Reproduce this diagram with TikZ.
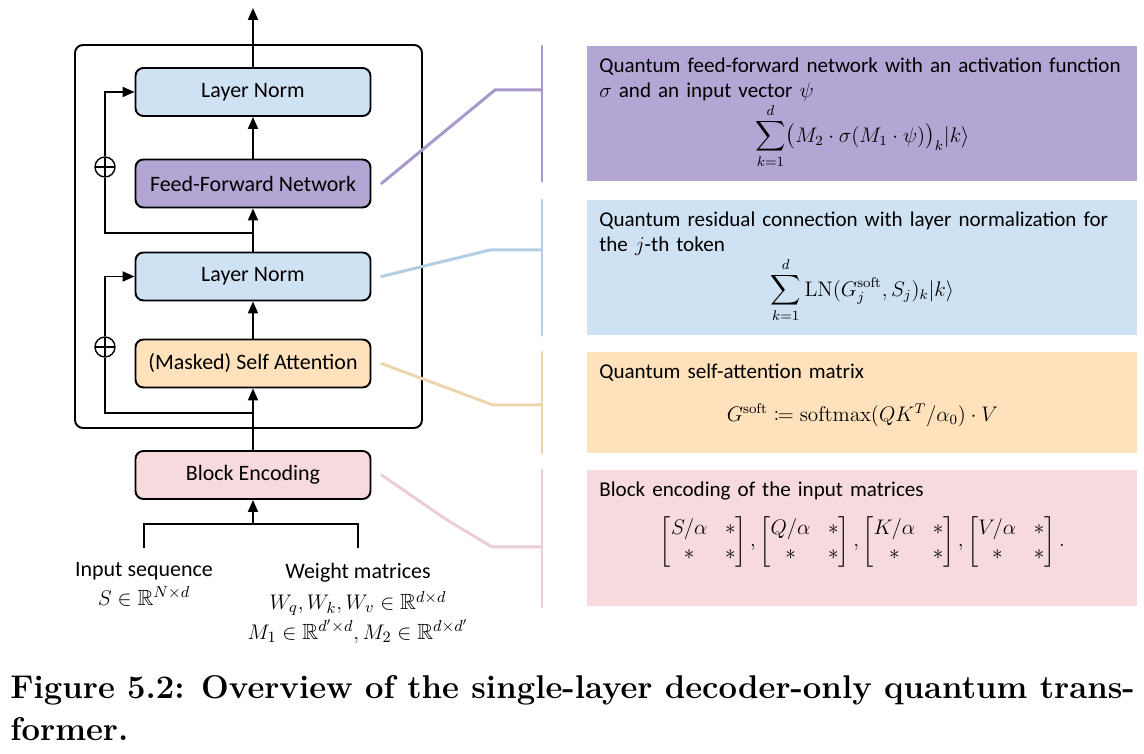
\documentclass[tikz,border=0pt]{standalone}
\usepackage{amsmath,amssymb,mathtools}
\usepackage[no-math]{fontspec}
\setmainfont{Carlito}
\newfontfamily\capfont{Latin Modern Roman}
\usetikzlibrary{arrows.meta}

\definecolor{ffncol}{RGB}{179,166,212}
\definecolor{lncol}{RGB}{207,226,243}
\definecolor{attcol}{RGB}{255,225,187}
\definecolor{bencol}{RGB}{247,218,221}
\definecolor{ffnline}{RGB}{168,152,204}
\definecolor{lnline}{RGB}{178,205,228}
\definecolor{attline}{RGB}{238,214,172}
\definecolor{benline}{RGB}{234,206,212}

\tikzset{
    block/.style={draw, line width=1.1pt, rounded corners=0.16cm, minimum width=4.7cm, minimum height=0.96cm, font=\fontsize{12.5}{15}\selectfont},
    note/.style={text width=10.52cm, inner sep=0.24cm, minimum height=#1, font=\fontsize{12}{14.2}\selectfont, align=left},
    inlabel/.style={align=center, inner ysep=0.29cm, font=\fontsize{12.5}{17}\selectfont},
    adder/.style={draw, circle, fill=white, minimum size=0.4cm, inner sep=0pt, line width=0.8pt,
        path picture={\draw[line width=0.8pt] (path picture bounding box.north) -- (path picture bounding box.south)
            (path picture bounding box.west) -- (path picture bounding box.east);}},
    flow/.style={line width=1.1pt, -{Triangle[length=2.4mm,width=2mm]}},
    plain/.style={line width=1.1pt},
    link/.style={line width=1.7pt, line cap=round}
}

\begin{document}
\begin{tikzpicture}
    \useasboundingbox (0,0) rectangle (22.88,15.08);

    \node[draw, line width=1.1pt, rounded corners=0.16cm, minimum width=6.94cm, minimum height=7.66cm] (decoder) at (4.97,10.35) {};

    \node[block, fill=lncol] (ln1) at (5.06,13.24) {Layer Norm};
    \node[block, fill=ffncol] (ffn) at (5.06,11.41) {Feed-Forward Network};
    \node[block, fill=lncol] (ln2) at (5.06,9.55) {Layer Norm};
    \node[block, fill=attcol] (msa) at (5.06,7.81) {(Masked) Self Attention};
    \node[block, fill=bencol] (be) at (5.06,5.58) {Block Encoding};

    \node[adder] (add2) at (2.10,11.74) {};
    \node[adder] (add1) at (2.10,8.14) {};

    \coordinate (out) at (5.06,14.92);
    \coordinate (split2) at (5.06,10.42);
    \coordinate (split1) at (5.06,6.82);
    \coordinate (join) at (5.06,4.60);

    \draw[flow] (ln1) -- (out);
    \draw[flow] (ffn) -- (ln1);
    \draw[flow] (ln2) -- (ffn);
    \draw[flow] (msa) -- (ln2);
    \draw[flow] (be) -- (msa);
    \draw[flow] (join) -- (be);

    \draw[plain] (split2) -| (add2.south);
    \draw[flow] (add2.north) |- (ln1.west);
    \draw[plain] (split1) -| (add1.south);
    \draw[flow] (add1.north) |- (ln2.west);

    \node[inlabel, anchor=north] (inseq) at (2.88,4.12) {Input sequence\\[-1pt] $S\in\mathbb{R}^{N\times d}$};
    \node[inlabel, anchor=north] (weights) at (7.16,4.12) {Weight matrices\\[1pt] $W_q,W_k,W_v\in\mathbb{R}^{d\times d}$\\ $M_1\in\mathbb{R}^{d'\times d},M_2\in\mathbb{R}^{d\times d'}$};
    \draw[plain] (inseq.north) |- (join);
    \draw[plain] (weights.north) |- (join);

    \node[note=2.62cm, fill=ffncol, anchor=north west] (ffnnote) at (11.74,14.16) {Quantum feed-forward network with an activation function\\ $\sigma$ and an input vector $\psi$\par\centering $\displaystyle\sum_{k=1}^{d}\bigl(M_2\cdot\sigma(M_1\cdot\psi)\bigr)_k|k\rangle$\par};
    \node[note=2.56cm, fill=lncol, anchor=north west] (lnnote) at (11.74,11.08) {Quantum residual connection with layer normalization for\\ the $j$-th token\par\centering $\displaystyle\sum_{k=1}^{d}\mathrm{LN}(G_j^{\mathrm{soft}},S_j)_k|k\rangle$\par};
    \node[note=1.92cm, fill=attcol, anchor=north west] (msanote) at (11.74,8.04) {Quantum self-attention matrix\par\vspace{10pt}\centering $G^{\mathrm{soft}}\coloneqq\mathrm{softmax}(QK^T/\alpha_0)\cdot V$\rule[-11pt]{0pt}{11pt}\par};
    \node[note=2.66cm, fill=bencol, anchor=north west] (benote) at (11.74,5.68) {Block encoding of the input matrices\par\vspace{8pt}\centering $\begin{bmatrix}S/\alpha & *\\ * & *\end{bmatrix},\begin{bmatrix}Q/\alpha & *\\ * & *\end{bmatrix},\begin{bmatrix}K/\alpha & *\\ * & *\end{bmatrix},\begin{bmatrix}V/\alpha & *\\ * & *\end{bmatrix}.$\rule[-27pt]{0pt}{27pt}\par};

    \coordinate (bx) at (10.84,0);
    \coordinate (ffnbend) at (9.90,13.28);
    \coordinate (lnbend) at (9.80,10.08);
    \coordinate (attbend) at (9.86,6.98);
    \coordinate (benmid) at (8.94,4.68);
    \coordinate (benbend) at (9.84,4.14);

    \draw[link, ffnline] (ffnnote.north west -| bx) -- (ffnnote.south west -| bx);
    \draw[link, lnline] (lnnote.north west -| bx) -- (lnnote.south west -| bx);
    \draw[link, attline] (msanote.north west -| bx) -- (msanote.south west -| bx);
    \draw[link, benline] (benote.north west -| bx) -- (benote.south west -| bx);

    \draw[link, ffnline] ([xshift=0.2cm]ffn.east) -- (ffnbend) -- (ffnbend -| bx);
    \draw[link, lnline] ([xshift=0.2cm]ln2.east) -- (lnbend) -- (lnbend -| bx);
    \draw[link, attline] ([xshift=0.2cm]msa.east) -- (attbend) -- (attbend -| bx);
    \draw[link, benline] ([xshift=0.2cm]be.east) -- (benmid) -- (benbend) -- (benbend -| bx);

    \node[anchor=north west, align=left, inner sep=0pt, font=\capfont\fontsize{18.7}{24}\selectfont\bfseries] (caption) at (0.2,1.58) {Figure 5.2: Overview of the single-layer decoder-only quantum trans-\\former.};

\end{tikzpicture}
\end{document}
